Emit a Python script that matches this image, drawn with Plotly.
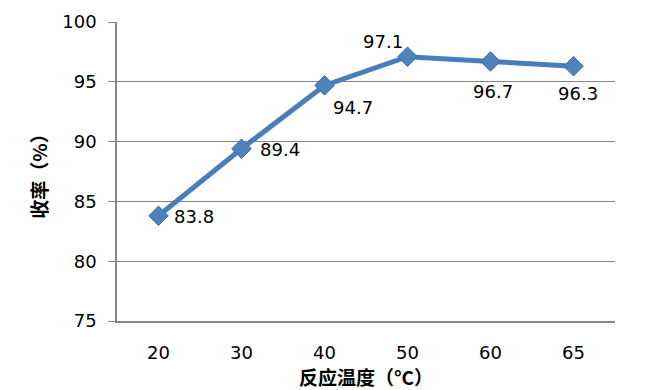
import plotly.graph_objects as go

temps = ["20", "30", "40", "50", "60", "65"]
yields = [83.8, 89.4, 94.7, 97.1, 96.7, 96.3]
label_dx = [35, 38, 28, -25, 2, 4]
label_dy = [-1, -1, -22, 15, -30, -27]
y_ticks = [75, 80, 85, 90, 95, 100]

fig = go.Figure()
fig.add_trace(go.Scatter(
    x=temps, y=yields,
    mode="lines+markers",
    line=dict(color="#4A7EBB", width=5),
    marker=dict(symbol="diamond", size=15, color="#4F81BD",
                line=dict(color="#3C6EAD", width=1)),
    cliponaxis=False,
    showlegend=False,
))

for i, (yv, dx, dy) in enumerate(zip(yields, label_dx, label_dy)):
    fig.add_annotation(x=i, y=yv, xref="x", yref="y", text=f"{yv:.1f}",
                       showarrow=False, xshift=dx, yshift=dy,
                       font=dict(family="DejaVu Sans", size=18, color="#000000"))

fig.update_layout(
    width=661, height=390,
    margin=dict(l=117, r=46, t=22, b=69),
    paper_bgcolor="white", plot_bgcolor="white",
    font=dict(family="DejaVu Sans", size=18, color="#000000"),
    xaxis=dict(
        type="category", range=[-0.5, 5.5], automargin=False,
        showgrid=False, showline=True, linecolor="#868686", linewidth=1.5,
        ticks="outside", ticklen=15, tickcolor="rgba(0,0,0,0)",
        tickfont=dict(family="DejaVu Sans", size=18),
        title=dict(text="反应温度（°C）", standoff=19,
                   font=dict(family="Noto Sans CJK SC", size=19, color="#000000",
                             weight="bold")),
    ),
    yaxis=dict(
        range=[75, 100], tickvals=y_ticks, automargin=False,
        showgrid=True, gridcolor="#868686", gridwidth=1.2,
        showline=True, linecolor="#868686", linewidth=1.5,
        ticks="outside", ticklen=7, tickcolor="#868686", tickwidth=1.2,
        ticklabelstandoff=8,
        zeroline=False,
        tickfont=dict(family="DejaVu Sans", size=18),
        title=dict(text="收率（%）", standoff=10,
                   font=dict(family="Noto Sans CJK SC", size=19, color="#000000",
                             weight="bold")),
    ),
)

fig.write_html("out.html")
